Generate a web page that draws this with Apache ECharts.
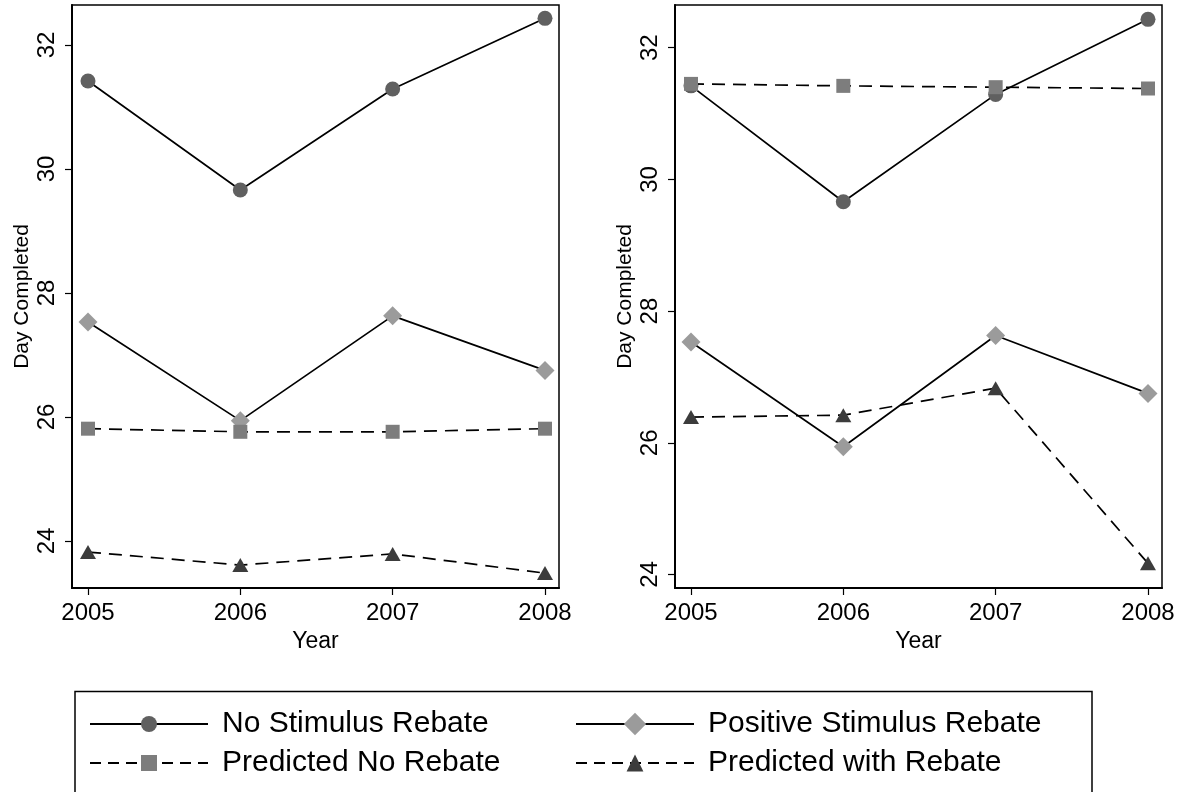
<!DOCTYPE html>
<html>
<head>
<meta charset="utf-8">
<script src="https://cdn.jsdelivr.net/npm/echarts@6/dist/echarts.min.js"></script>
<style>
html,body{margin:0;padding:0;background:#fff;}
#chart{width:1185px;height:792px;}
</style>
</head>
<body>
<div id="chart"></div>
<script>
// ---- data ----
var years = [2005, 2006, 2007, 2008];
var yTicks = [24, 26, 28, 30, 32];
var noStimulus = [31.42, 29.66, 31.29, 32.43];
var positiveStimulus = [27.53, 25.94, 27.63, 26.75];
var predNoRebateLeft = [25.81, 25.76, 25.76, 25.81];
var predWithRebateLeft = [23.82, 23.61, 23.79, 23.48];
var predNoRebateRight = [31.45, 31.42, 31.40, 31.38];
var predWithRebateRight = [26.39, 26.42, 26.83, 24.17];
var names = ['No Stimulus Rebate', 'Positive Stimulus Rebate', 'Predicted No Rebate', 'Predicted with Rebate'];

function pairs(vals) { return years.map(function (y, i) { return [y, vals[i]]; }); }

var FONT = 'Liberation Sans, Arial, Helvetica, sans-serif';

function xAxisDef(gi) {
  return {
    type: 'value', gridIndex: gi, min: 2004.895, max: 2008.092,
    name: 'Year', nameLocation: 'middle', nameGap: 38,
    nameTextStyle: { fontFamily: FONT, fontSize: 23, color: '#000' },
    axisLine: { show: true, onZero: false, lineStyle: { color: '#000', width: 2 } },
    axisTick: { show: true, length: 7, customValues: years, lineStyle: { color: '#000', width: 1.2 } },
    axisLabel: { customValues: years, margin: 13, fontFamily: FONT, fontSize: 24, color: '#000', formatter: function (v) { return String(v); } },
    splitLine: { show: false }
  };
}
function yAxisDef(gi, mn, mx) {
  return {
    type: 'value', gridIndex: gi, min: mn, max: mx,
    name: 'Day Completed', nameLocation: 'middle', nameGap: 39,
    nameTextStyle: { fontFamily: FONT, fontSize: 21, color: '#000' },
    axisLine: { show: true, onZero: false, lineStyle: { color: '#000', width: 2 } },
    axisTick: { show: true, length: 7, customValues: yTicks, lineStyle: { color: '#000', width: 1.2 } },
    axisLabel: { customValues: yTicks, rotate: 90, margin: 13, fontFamily: FONT, fontSize: 24, color: '#000' },
    splitLine: { show: false }
  };
}

var solid = { color: '#000', width: 1.7, type: 'solid' };
var dashed = { color: '#000', width: 1.7, type: [13, 8] };

function seriesSet(gi, predNo, predWith) {
  return [
    { name: names[0], type: 'line', xAxisIndex: gi, yAxisIndex: gi, data: pairs(noStimulus),
      symbol: 'circle', symbolSize: 15, itemStyle: { color: '#606060' }, lineStyle: solid, z: 3 },
    { name: names[1], type: 'line', xAxisIndex: gi, yAxisIndex: gi, data: pairs(positiveStimulus),
      symbol: 'diamond', symbolSize: [19, 19], itemStyle: { color: '#9b9b9b' }, lineStyle: solid, z: 3 },
    { name: names[2], type: 'line', xAxisIndex: gi, yAxisIndex: gi, data: pairs(predNo),
      symbol: 'rect', symbolSize: 14, itemStyle: { color: '#7d7d7d' }, lineStyle: dashed, z: 4 },
    { name: names[3], type: 'line', xAxisIndex: gi, yAxisIndex: gi, data: pairs(predWith),
      symbol: 'triangle', symbolSize: [16, 14], itemStyle: { color: '#3c3c3c' }, lineStyle: dashed, z: 4 }
  ];
}

function legendDef(left, top, name, ih) {
  return {
    orient: 'horizontal', left: left, top: top, padding: 0,
    itemWidth: 118, itemHeight: ih,
    textStyle: { fontFamily: FONT, fontSize: 30, lineHeight: 30, color: '#000', padding: [0, 0, 0, 9] },
    lineStyle: { type: [11, 7] },
    selectedMode: false,
    data: [name]
  };
}

var option = {
  backgroundColor: '#fff',
  animation: false,
  grid: [
    { left: 72, top: 5, width: 487, height: 583, show: true, borderColor: '#000', borderWidth: 1.5, backgroundColor: 'transparent' },
    { left: 675, top: 5, width: 487, height: 583, show: true, borderColor: '#000', borderWidth: 1.5, backgroundColor: 'transparent' }
  ],
  xAxis: [xAxisDef(0), xAxisDef(1)],
  yAxis: [yAxisDef(0, 23.24, 32.645), yAxisDef(1, 23.795, 32.648)],
  legend: [
    Object.assign(legendDef(89, 709, names[0], 20), { lineStyle: { type: 'solid' } }),
    legendDef(89, 748, names[2], 20),
    Object.assign(legendDef(575, 709, names[1], 28), { lineStyle: { type: 'solid' } }),
    legendDef(575, 748, names[3], 21)
  ],
  graphic: [
    { type: 'rect', shape: { x: 75, y: 691.5, width: 1017, height: 120 },
      style: { fill: 'none', stroke: '#000', lineWidth: 1.5 }, z: 0 }
  ],
  series: seriesSet(0, predNoRebateLeft, predWithRebateLeft).concat(seriesSet(1, predNoRebateRight, predWithRebateRight))
};

var chart = echarts.init(document.getElementById('chart'), null, { renderer: 'canvas' });
chart.setOption(option);
</script>
</body>
</html>
